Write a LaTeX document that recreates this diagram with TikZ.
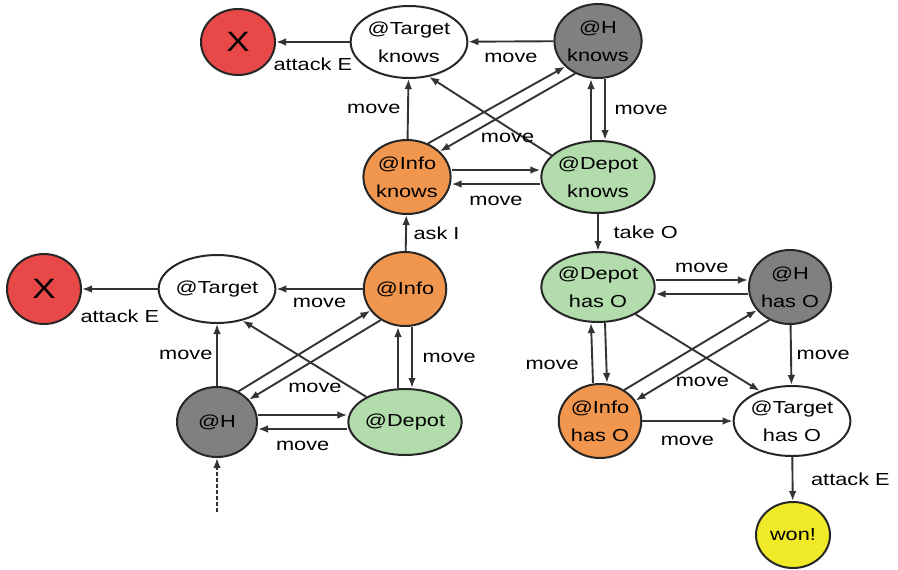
\documentclass[tikz,border=0pt]{standalone}
\usepackage{fontspec}
\setmainfont{Liberation Sans}[FakeStretch=1.25]
\usetikzlibrary{shapes.geometric, arrows.meta}
\definecolor{lostred}{RGB}{232,72,72}
\definecolor{infoorange}{RGB}{241,150,78}
\definecolor{depotgreen}{RGB}{178,220,172}
\definecolor{hgray}{RGB}{128,128,128}
\definecolor{wonyellow}{RGB}{240,234,40}
\tikzset{
	place/.style={draw=black!85, ellipse, line width=1pt, inner sep=0pt, align=center},
	wide/.style={place, minimum width=55pt, minimum height=36pt},
	round/.style={place, minimum width=40pt, minimum height=37pt},
	final/.style={place, minimum width=37pt, minimum height=33pt},
	trans/.style={->, line width=0.95pt, draw=black!80}
}

\begin{document}
\begin{tikzpicture}[x=0.5pt, y=-0.5pt, >={Latex[length=5pt, width=3.8pt]}, font=\fontsize{8.7}{14}\selectfont]
		\useasboundingbox (0,0) rectangle (898,569);
		
		% knowing the target
		\node[final, fill=lostred, font=\fontsize{14}{14}\selectfont] (lostTop) at (238,42) {X};
		\node[wide] (tgtKnows) at (409,42) {@Target\\knows};
		\node[round, fill=hgray] (hKnows) at (598,41) {@H\\knows};
		\node[round, fill=infoorange] (infoKnows) at (407,177) {@Info\\knows};
		\node[wide, fill=depotgreen] (depotKnows) at (598,177) {@Depot\\knows};
		
		% start
		\node[final, fill=lostred, minimum height=35pt, font=\fontsize{14}{14}\selectfont] (lostLeft) at (44,289) {X};
		\node[wide, minimum height=34pt] (tgt) at (217,289) {@Target};
		\node[round, fill=infoorange] (info) at (405,289) {@Info};
		\node[round, fill=hgray, minimum height=35pt] (h) at (217,422) {@H};
		\node[wide, fill=depotgreen, minimum height=33pt] (depot) at (405,422) {@Depot};
		\coordinate (start) at (217,512);
		
		% holding the object
		\node[wide, fill=depotgreen, minimum height=35pt] (depotHas) at (598,287) {@Depot\\has O};
		\node[round, fill=hgray] (hHas) at (790,287) {@H\\has O};
		\node[round, fill=infoorange] (infoHas) at (600,421) {@Info\\has O};
		\node[wide, minimum height=35pt] (tgtHas) at (792,421) {@Target\\has O};
		\node[final, fill=wonyellow] (won) at (793,535) {won!};
		
		\draw[trans] (tgtKnows) -- (lostTop) node[midway, below=4pt] {attack E};
		\draw[trans] (hKnows) -- (tgtKnows) node[midway, below=2pt] {move};
		\draw[trans] (infoKnows) -- (tgtKnows) node[midway, left] {move};
		\draw[trans] (depotKnows.155) -- (tgtKnows.300);
		\draw[trans] (infoKnows.58) -- (hKnows.218);
		\draw[trans] (hKnows.235) -- (infoKnows.38) node[midway, below=6.5pt] {move};
		\draw[trans] ([xshift=-3.5pt]depotKnows.north) -- ([xshift=-3.5pt]hKnows.south);
		\draw[trans] ([xshift=3.5pt]hKnows.south) -- ([xshift=3.5pt]depotKnows.north) node[midway, right=1pt] {move};
		\draw[trans] ([yshift=3.5pt]infoKnows.east) -- ([yshift=3.5pt]depotKnows.west);
		\draw[trans] ([yshift=-3.5pt]depotKnows.west) -- ([yshift=-3.5pt]infoKnows.east) node[midway, below=2.5pt] {move};
		
		\draw[trans] (info) -- (infoKnows) node[midway, right] {ask I};
		\draw[trans] (depotKnows) -- (depotHas) node[midway, right=4pt] {take O};
		
		\draw[trans] (tgt) -- (lostLeft) node[midway, below=6.5pt] {attack E};
		\draw[trans] (info) -- (tgt) node[midway, below=1pt] {move};
		\draw[trans] (h) -- (tgt) node[midway, left=-1.5pt] {move};
		\draw[trans] (depot.147) -- (tgt.309);
		\draw[trans] (h.55) -- (info.212);
		\draw[trans] (info.232) -- (h.35) node[midway, below=8pt] {move};
		\draw[trans] ([xshift=-3.5pt]depot.north) -- ([xshift=-3.5pt]info.south);
		\draw[trans] ([xshift=3.5pt]info.south) -- ([xshift=3.5pt]depot.north) node[midway, right=1.5pt] {move};
		\draw[trans] ([yshift=3.5pt]h.east) -- ([yshift=3.5pt]depot.west);
		\draw[trans] ([yshift=-3.5pt]depot.west) -- ([yshift=-3.5pt]h.east) node[midway, below=2.5pt] {move};
		\draw[trans, dash pattern=on 2pt off 1pt] (start) -- (h);
		
		\draw[trans] ([yshift=3.5pt]depotHas.east) -- ([yshift=3.5pt]hHas.west) node[midway, above] {move};
		\draw[trans] ([yshift=-3.5pt]hHas.west) -- ([yshift=-3.5pt]depotHas.east);
		\draw[trans] ([xshift=-3.5pt]infoHas.north) -- ([xshift=-3.5pt]depotHas.south) node[pos=0.3, left=3pt] {move};
		\draw[trans] ([xshift=3.5pt]depotHas.south) -- ([xshift=3.5pt]infoHas.north);
		\draw[trans] (infoHas.52) -- (hHas.215);
		\draw[trans] (hHas.238) -- (infoHas.30) node[midway, below=4.5pt] {move};
		\draw[trans] (depotHas.324) -- (tgtHas.137);
		\draw[trans] (hHas) -- (tgtHas) node[midway, right=-1pt] {move};
		\draw[trans] (infoHas) -- (tgtHas) node[midway, below=4pt] {move};
		\draw[trans] (tgtHas) -- (won) node[midway, right=5.5pt] {attack E};
	\end{tikzpicture}
\end{document}
